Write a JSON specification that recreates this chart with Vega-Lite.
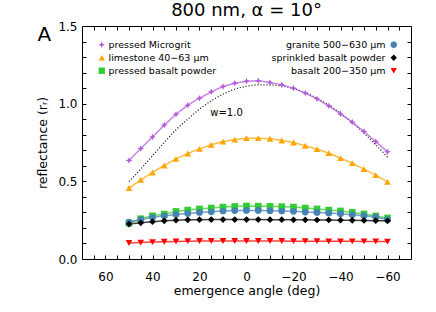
{
 "$schema": "https://vega.github.io/schema/vega-lite/v6.json",
 "width": 329, "height": 233,
 "autosize": {"type": "none"},
 "padding": {"left": 82, "top": 26, "right": 25, "bottom": 53},
 "background": "white",
 "title": {"text": "800 nm, α = 10°", "font": "DejaVu Sans", "fontSize": 18, "fontWeight": "normal", "offset": 0, "color": "black"},
 "config": {
  "view": {"stroke": "black", "strokeWidth": 1},
  "axis": {"grid": false, "domain": false, "tickColor": "black", "tickSize": -4, "labelOverlap": false, "labelFlush": false, "labelBound": false, "labelFont": "DejaVu Sans", "labelFontSize": 12, "labelColor": "black", "titleFont": "DejaVu Sans", "titleFontSize": 12.5, "titleFontWeight": "normal", "titleColor": "black"},
  "legend": {"title": null, "labelFont": "DejaVu Sans", "labelFontSize": 9.5, "labelColor": "black", "symbolSize": 40, "rowPadding": 2, "padding": 0}
 },
 "datasets": {
  "obs": [
   {"a":50,"r":0.634,"s":"pressed Microgrit"},{"a":45,"r":0.711,"s":"pressed Microgrit"},{"a":40,"r":0.786,"s":"pressed Microgrit"},{"a":35,"r":0.862,"s":"pressed Microgrit"},{"a":30,"r":0.932,"s":"pressed Microgrit"},{"a":25,"r":0.990,"s":"pressed Microgrit"},{"a":20,"r":1.035,"s":"pressed Microgrit"},{"a":15,"r":1.076,"s":"pressed Microgrit"},{"a":10,"r":1.110,"s":"pressed Microgrit"},{"a":5,"r":1.132,"s":"pressed Microgrit"},{"a":0,"r":1.145,"s":"pressed Microgrit"},{"a":-5,"r":1.147,"s":"pressed Microgrit"},{"a":-10,"r":1.136,"s":"pressed Microgrit"},{"a":-15,"r":1.121,"s":"pressed Microgrit"},{"a":-20,"r":1.100,"s":"pressed Microgrit"},{"a":-25,"r":1.068,"s":"pressed Microgrit"},{"a":-30,"r":1.031,"s":"pressed Microgrit"},{"a":-35,"r":0.986,"s":"pressed Microgrit"},{"a":-40,"r":0.934,"s":"pressed Microgrit"},{"a":-45,"r":0.881,"s":"pressed Microgrit"},{"a":-50,"r":0.821,"s":"pressed Microgrit"},{"a":-55,"r":0.756,"s":"pressed Microgrit"},{"a":-60,"r":0.690,"s":"pressed Microgrit"},
   {"a":50,"r":0.457,"s":"limestone 40−63 μm"},{"a":45,"r":0.510,"s":"limestone 40−63 μm"},{"a":40,"r":0.557,"s":"limestone 40−63 μm"},{"a":35,"r":0.602,"s":"limestone 40−63 μm"},{"a":30,"r":0.645,"s":"limestone 40−63 μm"},{"a":25,"r":0.679,"s":"limestone 40−63 μm"},{"a":20,"r":0.709,"s":"limestone 40−63 μm"},{"a":15,"r":0.735,"s":"limestone 40−63 μm"},{"a":10,"r":0.756,"s":"limestone 40−63 μm"},{"a":5,"r":0.769,"s":"limestone 40−63 μm"},{"a":0,"r":0.778,"s":"limestone 40−63 μm"},{"a":-5,"r":0.778,"s":"limestone 40−63 μm"},{"a":-10,"r":0.774,"s":"limestone 40−63 μm"},{"a":-15,"r":0.763,"s":"limestone 40−63 μm"},{"a":-20,"r":0.750,"s":"limestone 40−63 μm"},{"a":-25,"r":0.729,"s":"limestone 40−63 μm"},{"a":-30,"r":0.707,"s":"limestone 40−63 μm"},{"a":-35,"r":0.682,"s":"limestone 40−63 μm"},{"a":-40,"r":0.649,"s":"limestone 40−63 μm"},{"a":-45,"r":0.617,"s":"limestone 40−63 μm"},{"a":-50,"r":0.579,"s":"limestone 40−63 μm"},{"a":-55,"r":0.540,"s":"limestone 40−63 μm"},{"a":-60,"r":0.497,"s":"limestone 40−63 μm"},
   {"a":50,"r":0.231,"s":"pressed basalt powder"},{"a":45,"r":0.259,"s":"pressed basalt powder"},{"a":40,"r":0.278,"s":"pressed basalt powder"},{"a":35,"r":0.289,"s":"pressed basalt powder"},{"a":30,"r":0.306,"s":"pressed basalt powder"},{"a":25,"r":0.315,"s":"pressed basalt powder"},{"a":20,"r":0.322,"s":"pressed basalt powder"},{"a":15,"r":0.328,"s":"pressed basalt powder"},{"a":10,"r":0.334,"s":"pressed basalt powder"},{"a":5,"r":0.338,"s":"pressed basalt powder"},{"a":0,"r":0.341,"s":"pressed basalt powder"},{"a":-5,"r":0.340,"s":"pressed basalt powder"},{"a":-10,"r":0.339,"s":"pressed basalt powder"},{"a":-15,"r":0.337,"s":"pressed basalt powder"},{"a":-20,"r":0.334,"s":"pressed basalt powder"},{"a":-25,"r":0.328,"s":"pressed basalt powder"},{"a":-30,"r":0.322,"s":"pressed basalt powder"},{"a":-35,"r":0.315,"s":"pressed basalt powder"},{"a":-40,"r":0.309,"s":"pressed basalt powder"},{"a":-45,"r":0.300,"s":"pressed basalt powder"},{"a":-50,"r":0.290,"s":"pressed basalt powder"},{"a":-55,"r":0.277,"s":"pressed basalt powder"},{"a":-60,"r":0.264,"s":"pressed basalt powder"},
   {"a":50,"r":0.238,"s":"granite 500−630 μm"},{"a":45,"r":0.253,"s":"granite 500−630 μm"},{"a":40,"r":0.268,"s":"granite 500−630 μm"},{"a":35,"r":0.278,"s":"granite 500−630 μm"},{"a":30,"r":0.287,"s":"granite 500−630 μm"},{"a":25,"r":0.293,"s":"granite 500−630 μm"},{"a":20,"r":0.300,"s":"granite 500−630 μm"},{"a":15,"r":0.304,"s":"granite 500−630 μm"},{"a":10,"r":0.309,"s":"granite 500−630 μm"},{"a":5,"r":0.312,"s":"granite 500−630 μm"},{"a":0,"r":0.313,"s":"granite 500−630 μm"},{"a":-5,"r":0.313,"s":"granite 500−630 μm"},{"a":-10,"r":0.311,"s":"granite 500−630 μm"},{"a":-15,"r":0.309,"s":"granite 500−630 μm"},{"a":-20,"r":0.307,"s":"granite 500−630 μm"},{"a":-25,"r":0.302,"s":"granite 500−630 μm"},{"a":-30,"r":0.300,"s":"granite 500−630 μm"},{"a":-35,"r":0.296,"s":"granite 500−630 μm"},{"a":-40,"r":0.292,"s":"granite 500−630 μm"},{"a":-45,"r":0.285,"s":"granite 500−630 μm"},{"a":-50,"r":0.279,"s":"granite 500−630 μm"},{"a":-55,"r":0.270,"s":"granite 500−630 μm"},{"a":-60,"r":0.253,"s":"granite 500−630 μm"},
   {"a":50,"r":0.225,"s":"sprinkled basalt powder"},{"a":45,"r":0.233,"s":"sprinkled basalt powder"},{"a":40,"r":0.240,"s":"sprinkled basalt powder"},{"a":35,"r":0.246,"s":"sprinkled basalt powder"},{"a":30,"r":0.250,"s":"sprinkled basalt powder"},{"a":25,"r":0.252,"s":"sprinkled basalt powder"},{"a":20,"r":0.253,"s":"sprinkled basalt powder"},{"a":15,"r":0.254,"s":"sprinkled basalt powder"},{"a":10,"r":0.254,"s":"sprinkled basalt powder"},{"a":5,"r":0.254,"s":"sprinkled basalt powder"},{"a":0,"r":0.254,"s":"sprinkled basalt powder"},{"a":-5,"r":0.254,"s":"sprinkled basalt powder"},{"a":-10,"r":0.253,"s":"sprinkled basalt powder"},{"a":-15,"r":0.253,"s":"sprinkled basalt powder"},{"a":-20,"r":0.252,"s":"sprinkled basalt powder"},{"a":-25,"r":0.252,"s":"sprinkled basalt powder"},{"a":-30,"r":0.251,"s":"sprinkled basalt powder"},{"a":-35,"r":0.251,"s":"sprinkled basalt powder"},{"a":-40,"r":0.250,"s":"sprinkled basalt powder"},{"a":-45,"r":0.249,"s":"sprinkled basalt powder"},{"a":-50,"r":0.248,"s":"sprinkled basalt powder"},{"a":-55,"r":0.247,"s":"sprinkled basalt powder"},{"a":-60,"r":0.246,"s":"sprinkled basalt powder"},
   {"a":50,"r":0.103,"s":"basalt 200−350 μm"},{"a":45,"r":0.106,"s":"basalt 200−350 μm"},{"a":40,"r":0.109,"s":"basalt 200−350 μm"},{"a":35,"r":0.111,"s":"basalt 200−350 μm"},{"a":30,"r":0.113,"s":"basalt 200−350 μm"},{"a":25,"r":0.115,"s":"basalt 200−350 μm"},{"a":20,"r":0.116,"s":"basalt 200−350 μm"},{"a":15,"r":0.116,"s":"basalt 200−350 μm"},{"a":10,"r":0.116,"s":"basalt 200−350 μm"},{"a":5,"r":0.116,"s":"basalt 200−350 μm"},{"a":0,"r":0.116,"s":"basalt 200−350 μm"},{"a":-5,"r":0.116,"s":"basalt 200−350 μm"},{"a":-10,"r":0.116,"s":"basalt 200−350 μm"},{"a":-15,"r":0.116,"s":"basalt 200−350 μm"},{"a":-20,"r":0.115,"s":"basalt 200−350 μm"},{"a":-25,"r":0.115,"s":"basalt 200−350 μm"},{"a":-30,"r":0.115,"s":"basalt 200−350 μm"},{"a":-35,"r":0.114,"s":"basalt 200−350 μm"},{"a":-40,"r":0.114,"s":"basalt 200−350 μm"},{"a":-45,"r":0.114,"s":"basalt 200−350 μm"},{"a":-50,"r":0.113,"s":"basalt 200−350 μm"},{"a":-55,"r":0.113,"s":"basalt 200−350 μm"},{"a":-60,"r":0.112,"s":"basalt 200−350 μm"}
  ],
  "model": [
   {"a":50,"r":0.499},{"a":45,"r":0.579},{"a":40,"r":0.664},{"a":35,"r":0.750},{"a":30,"r":0.832},{"a":25,"r":0.900},{"a":20,"r":0.965},{"a":15,"r":1.018},{"a":10,"r":1.061},{"a":5,"r":1.093},{"a":0,"r":1.112},{"a":-5,"r":1.121},{"a":-10,"r":1.121},{"a":-15,"r":1.114},{"a":-20,"r":1.097},{"a":-25,"r":1.071},{"a":-30,"r":1.035},{"a":-35,"r":0.990},{"a":-40,"r":0.939},{"a":-45,"r":0.878},{"a":-50,"r":0.810},{"a":-55,"r":0.735},{"a":-60,"r":0.656}
  ],
  "labels": [
   {"a":8.5,"r":0.939,"t":"w=1.0"}
  ],
  "panel": [
   {"a":86,"r":1.44,"t":"A"}
  ]
 },
 "layer": [
  {
   "data": {"name": "model"},
   "mark": {"type": "line", "stroke": "black", "strokeDash": [1, 2], "strokeWidth": 1.2, "interpolate": "monotone"},
   "encoding": {
    "x": {"field": "a", "type": "quantitative", "scale": {"domain": [70, -70], "nice": false, "zero": false},
          "axis": {"orient": "top", "values": [65,60,55,50,45,40,35,30,25,20,15,10,5,0,-5,-10,-15,-20,-25,-30,-35,-40,-45,-50,-55,-60,-65], "labels": false, "title": null}},
    "y": {"field": "r", "type": "quantitative", "scale": {"domain": [0, 1.5], "nice": false, "zero": false},
          "axis": {"orient": "right", "values": [0.1,0.2,0.3,0.4,0.5,0.6,0.7,0.8,0.9,1.0,1.1,1.2,1.3,1.4], "labels": false, "title": null}}
   }
  },
  {
   "data": {"name": "obs"},
   "transform": [{"filter": {"field": "s", "oneOf": ["pressed Microgrit", "limestone 40−63 μm", "pressed basalt powder"]}}],
   "mark": {"type": "line", "strokeWidth": 1.5, "strokeOpacity": 0.75},
   "encoding": {
    "x": {"field": "a", "type": "quantitative", "axis": null},
    "y": {"field": "r", "type": "quantitative", "axis": null},
    "stroke": {"field": "s", "type": "nominal", "scale": {"domain": ["pressed Microgrit", "limestone 40−63 μm", "pressed basalt powder"], "range": ["#b45cdc", "#ffa500", "#33cc33"]}, "legend": null}
   }
  },
  {
   "data": {"name": "obs"},
   "transform": [{"filter": {"field": "s", "oneOf": ["granite 500−630 μm", "sprinkled basalt powder", "basalt 200−350 μm"]}}],
   "mark": {"type": "line", "strokeWidth": 1.5, "strokeOpacity": 0.75},
   "encoding": {
    "x": {"field": "a", "type": "quantitative", "axis": null},
    "y": {"field": "r", "type": "quantitative", "axis": null},
    "stroke": {"field": "s", "type": "nominal", "scale": {"domain": ["granite 500−630 μm", "sprinkled basalt powder", "basalt 200−350 μm"], "range": ["#4682b4", "#000000", "#ff0000"]}, "legend": null}
   }
  },
  {
   "data": {"name": "obs"},
   "transform": [{"filter": {"field": "s", "oneOf": ["pressed Microgrit", "limestone 40−63 μm", "pressed basalt powder"]}}],
   "mark": {"type": "point", "filled": true, "opacity": 1, "size": 45},
   "encoding": {
    "x": {"field": "a", "type": "quantitative",
          "axis": {"orient": "bottom", "values": [65,60,55,50,45,40,35,30,25,20,15,10,5,0,-5,-10,-15,-20,-25,-30,-35,-40,-45,-50,-55,-60,-65], "labelExpr": "datum.value % 20 == 0 ? datum.label : ''", "labelPadding": 16, "title": "emergence angle (deg)", "titlePadding": 2}},
    "y": {"field": "r", "type": "quantitative",
          "axis": {"orient": "left", "values": [0,0.1,0.2,0.3,0.4,0.5,0.6,0.7,0.8,0.9,1.0,1.1,1.2,1.3,1.4,1.5], "labelExpr": "round(datum.value*10) % 5 == 0 ? format(datum.value, '.1f') : ''", "labelPadding": 9, "title": "reflectance (rᵣ)", "titlePadding": 8}},
    "color": {"field": "s", "type": "nominal", "scale": {"domain": ["pressed Microgrit", "limestone 40−63 μm", "pressed basalt powder"], "range": ["#b45cdc", "#ffa500", "#33cc33"]},
              "legend": {"orient": "none", "legendX": 15, "legendY": 14, "labelOffset": 2}},
    "shape": {"field": "s", "type": "nominal", "scale": {"domain": ["pressed Microgrit", "limestone 40−63 μm", "pressed basalt powder"], "range": ["M0,-1L0.3,-0.3L1,0L0.3,0.3L0,1L-0.3,0.3L-1,0L-0.3,-0.3Z", "triangle-up", "square"]},
              "legend": {"orient": "none", "legendX": 15, "legendY": 14, "labelOffset": 2}}
   }
  },
  {
   "data": {"name": "obs"},
   "transform": [{"filter": {"field": "s", "oneOf": ["granite 500−630 μm", "sprinkled basalt powder", "basalt 200−350 μm"]}}],
   "mark": {"type": "point", "filled": true, "opacity": 1, "size": 45},
   "encoding": {
    "x": {"field": "a", "type": "quantitative", "axis": null},
    "y": {"field": "r", "type": "quantitative", "axis": null},
    "color": {"field": "s", "type": "nominal", "scale": {"domain": ["granite 500−630 μm", "sprinkled basalt powder", "basalt 200−350 μm"], "range": ["#4682b4", "#000000", "#ff0000"]},
              "legend": {"orient": "none", "legendX": 307, "legendY": 14, "labelAlign": "right", "labelOffset": -13}},
    "shape": {"field": "s", "type": "nominal", "scale": {"domain": ["granite 500−630 μm", "sprinkled basalt powder", "basalt 200−350 μm"], "range": ["circle", "diamond", "triangle-down"]},
              "legend": {"orient": "none", "legendX": 307, "legendY": 14, "labelAlign": "right", "labelOffset": -13}}
   }
  },
  {
   "data": {"name": "labels"},
   "mark": {"type": "text", "font": "DejaVu Sans", "fontSize": 10, "color": "black", "align": "center", "baseline": "middle"},
   "encoding": {
    "x": {"field": "a", "type": "quantitative", "axis": null},
    "y": {"field": "r", "type": "quantitative", "axis": null},
    "text": {"field": "t"}
   }
  },
  {
   "data": {"name": "panel"},
   "mark": {"type": "text", "font": "DejaVu Sans", "fontSize": 20, "color": "black", "align": "center", "baseline": "middle"},
   "encoding": {
    "x": {"field": "a", "type": "quantitative", "axis": null},
    "y": {"field": "r", "type": "quantitative", "axis": null},
    "text": {"field": "t"}
   }
  }
 ],
 "resolve": {"scale": {"color": "independent", "shape": "independent", "stroke": "independent"}, "axis": {"x": "independent", "y": "independent"}}
}
